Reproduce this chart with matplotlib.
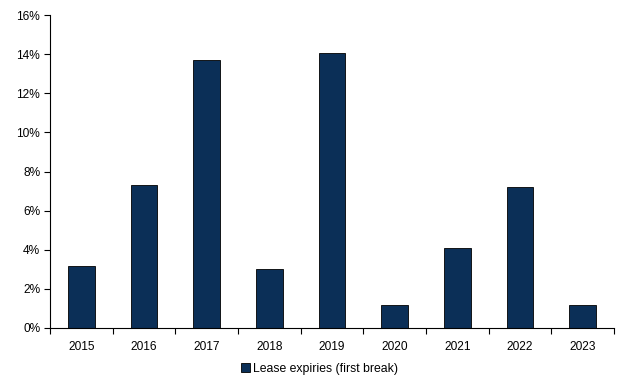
import numpy as np
import matplotlib.pyplot as plt

plt.rcParams['font.family'] = ['Liberation Sans', 'DejaVu Sans']

years = ['2015', '2016', '2017', '2018', '2019', '2020', '2021', '2022', '2023']
expiries = [3.15, 7.3, 13.7, 3.0, 14.05, 1.2, 4.1, 7.2, 1.2]

fig = plt.figure(figsize=(6.27, 3.81), dpi=100)
ax = fig.add_axes([50 / 627, 53 / 381, 564 / 627, 313 / 381])

x = np.arange(len(years))
ax.bar(x, expiries, width=0.43, color='#0b2f57', edgecolor='#000000', linewidth=0.6,
       label='Lease expiries (first break)')

ax.set_xlim(-0.5, len(years) - 0.5)
ax.set_ylim(0, 16)
ax.set_yticks(range(0, 17, 2))
ax.set_yticklabels([f'{v}%' for v in range(0, 17, 2)])
ax.set_xticks(x)
ax.set_xticklabels(years)
ax.set_xticks(np.arange(-0.5, len(years), 1), minor=True)
ax.tick_params(axis='x', which='major', length=0, pad=9, labelsize=8.6)
ax.tick_params(axis='x', which='minor', length=4, width=0.8, direction='out')
ax.tick_params(axis='y', length=4, width=0.8, direction='out', labelsize=8.6, pad=3)

for s in ['top', 'right']:
    ax.spines[s].set_visible(False)
ax.spines['left'].set_linewidth(0.8)
ax.spines['bottom'].set_linewidth(0.8)

fig.legend(loc='lower center', bbox_to_anchor=(0.51, -0.012), frameon=False, fontsize=8.8,
           handlelength=0.7, handleheight=0.7, handletextpad=0.3)

fig.savefig('out.png', dpi=100)
